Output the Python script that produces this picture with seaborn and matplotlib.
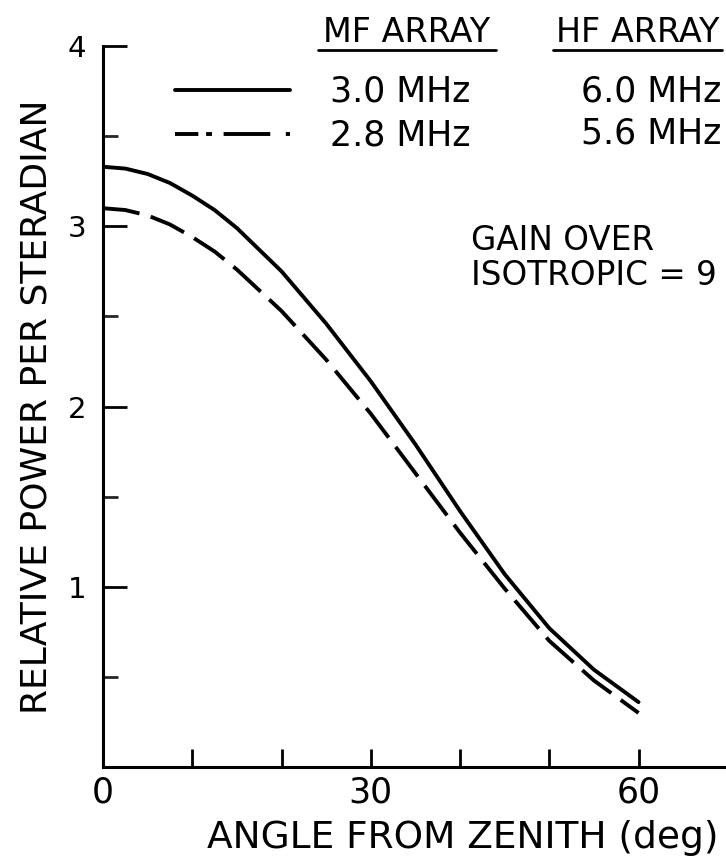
import numpy as np
import pandas as pd
import matplotlib
matplotlib.use("Agg")
import matplotlib.pyplot as plt
from matplotlib.lines import Line2D
from matplotlib.ticker import FixedLocator, FixedFormatter
import seaborn as sns

# ---- data ----
angle_deg = [0, 2.5, 5, 7.5, 10, 12.5, 15, 20, 25, 30, 35, 40, 45, 50, 55, 60]
power_30mhz = [3.33, 3.32, 3.29, 3.24, 3.17, 3.09, 2.99, 2.75, 2.46, 2.14, 1.79, 1.42, 1.07, 0.77, 0.54, 0.36]
power_28mhz = [3.10, 3.09, 3.06, 3.01, 2.94, 2.86, 2.76, 2.53, 2.26, 1.96, 1.63, 1.30, 0.99, 0.70, 0.48, 0.30]

x_ticks = [0, 10, 20, 30, 40, 50, 60, 70]
x_tick_labels = ["0", "", "", "30", "", "", "60", ""]
y_major = [1, 2, 3, 4]
y_major_labels = ["1", "2", "3", "4"]
y_minor = [0.5, 1.5, 2.5, 3.5]

mf_labels = ["3.0 MHz", "2.8 MHz"]
hf_labels = ["6.0 MHz", "5.6 MHz"]

sns.set_theme(style="white")
plt.rcParams["font.family"] = ["DejaVu Sans"]

W, H = 726, 859
fig = plt.figure(figsize=(W / 100, H / 100), dpi=100)
ax = fig.add_axes([103 / W, (H - 767) / H, (W - 103) / W, (767 - 46) / H])

df = pd.DataFrame({"angle": angle_deg, "p30": power_30mhz, "p28": power_28mhz})
sns.lineplot(data=df, x="angle", y="p30", color="black", lw=2.8, ax=ax)
sns.lineplot(data=df, x="angle", y="p28", color="black", lw=2.8,
             linestyle=(0, (9.5, 3)), ax=ax)

ax.set_xlim(0, 69.8)
ax.set_ylim(0, 4)

for s in ["top", "right"]:
    ax.spines[s].set_visible(False)
for s in ["left", "bottom"]:
    ax.spines[s].set_linewidth(2.2)
    ax.spines[s].set_color("black")

ax.xaxis.set_major_locator(FixedLocator(x_ticks))
ax.xaxis.set_major_formatter(FixedFormatter(x_tick_labels))
ax.yaxis.set_major_locator(FixedLocator(y_major))
ax.yaxis.set_major_formatter(FixedFormatter(y_major_labels))
ax.yaxis.set_minor_locator(FixedLocator(y_minor))

ax.tick_params(axis="x", which="major", direction="in", length=13, width=2,
               labelsize=25, pad=6, colors="black", bottom=True)
ax.tick_params(axis="y", which="major", direction="in", length=17, width=2,
               labelsize=21, pad=12, colors="black", left=True)
ax.tick_params(axis="y", which="minor", direction="in", length=11, width=2,
               left=True)

ax.set_xlabel("ANGLE FROM ZENITH (deg)", fontsize=27, color="black")
ax.set_ylabel("RELATIVE POWER PER STERADIAN", fontsize=26, color="black")
ax.xaxis.set_label_coords(0.578, -0.074)
ax.yaxis.set_label_coords(-0.08, 0.5)

# ---- legend ----
handles = [Line2D([], [], color="black", lw=2.8),
           Line2D([], [], color="black", lw=2.8, linestyle=(0, (6, 2, 1.5, 3, 12, 4, 12)))]
leg = ax.legend(handles, mf_labels, loc="upper left", frameon=False,
                bbox_to_anchor=(175 / W, 1 - 75 / H), bbox_transform=fig.transFigure,
                fontsize=25, handlelength=3.3, handletextpad=1.15,
                labelspacing=0.28, borderpad=0, borderaxespad=0)
for t in leg.get_texts():
    t.set_color("black")

fig.text(407 / W, 1 - 32 / H, "MF ARRAY", ha="center", va="center", fontsize=24, color="black")
fig.text(638 / W, 1 - 32 / H, "HF ARRAY", ha="center", va="center", fontsize=24, color="black")
fig.add_artist(Line2D([318 / W, 496 / W], [1 - 50 / H, 1 - 50 / H], color="black", lw=2,
                      transform=fig.transFigure))
fig.add_artist(Line2D([553 / W, 722 / W], [1 - 50 / H, 1 - 50 / H], color="black", lw=2,
                      transform=fig.transFigure))
fig.text(721 / W, 1 - 92 / H, hf_labels[0], ha="right", va="center", fontsize=25, color="black")
fig.text(721 / W, 1 - 133 / H, hf_labels[1], ha="right", va="center", fontsize=25, color="black")

fig.text(471 / W, 1 - 258 / H, "GAIN OVER\nISOTROPIC = 9", ha="left", va="center",
         fontsize=23.5, color="black", linespacing=1.05)

fig.savefig("out.png", dpi=100, facecolor="white")
